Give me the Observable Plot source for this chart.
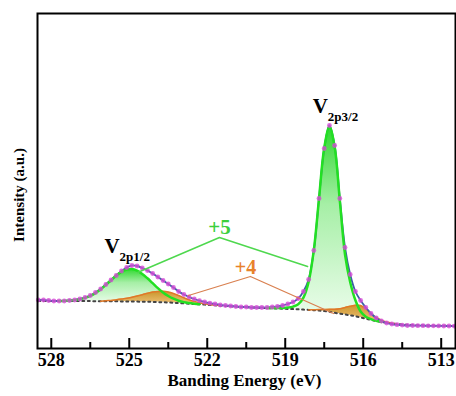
<!DOCTYPE html>
<html><head><meta charset="utf-8">
<script src="https://cdn.jsdelivr.net/npm/d3@7"></script>
<script src="https://cdn.jsdelivr.net/npm/@observablehq/plot@0.6"></script>
<style>body{margin:0;background:#fff} svg{display:block}</style>
</head><body><div id="chart"></div>
<script>
// Binding energy grid (eV)
const energy = [528.5,528.3,528.1,527.9,527.7,527.5,527.3,527.1,526.9,526.7,526.5,526.3,526.1,525.9,525.7,525.5,525.3,525.1,524.9,524.7,524.5,524.3,524.1,523.9,523.7,523.5,523.3,523.1,522.9,522.7,522.5,522.3,522.1,521.9,521.7,521.5,521.3,521.1,520.9,520.7,520.5,520.3,520.1,519.9,519.7,519.5,519.3,519.1,518.9,518.7,518.5,518.3,518.1,517.9,517.7,517.5,517.3,517.1,516.9,516.7,516.5,516.3,516.1,515.9,515.7,515.5,515.3,515.1,514.9,514.7,514.5,514.3,514.1,513.9,513.7,513.5,513.3,513.1,512.9,512.7,512.5];
// Measured intensity (a.u.)
const intensity = [48.5,48.5,48,47.5,47.5,47.5,48,48.5,49.5,51,53,56,59.5,64,68.5,73,77.5,81,83,82.5,80.5,78,75,71.5,68,64.5,61,57,54,51.5,49.5,47.8,46.5,45.3,44.5,43.5,43,42.5,42,41.5,41.5,41,41,41,41,41.5,42,43,44.5,46.5,50,57,69,98,150,200,223,203,150,101,74,57,48,41,35,30.5,27.5,25.5,24.5,23.8,23.4,23,23,22.8,22.8,22.7,22.7,22.6,22.5,22.5,22.4];
// Shirley background (a.u.)
const background = [47.5,47.5,47.5,47.5,47.5,47.5,47.5,47.5,47.4,47.4,47.4,47.3,47.3,47.3,47.2,47.2,47.1,47.0,47.0,46.9,46.8,46.7,46.6,46.4,46.2,46.0,45.7,45.4,45.1,44.8,44.5,44.2,43.9,43.5,43.2,42.8,42.5,42.2,41.9,41.6,41.3,41.1,40.8,40.6,40.4,40.2,40.0,39.8,39.6,39.4,39.2,38.9,38.6,38.3,38.0,37.5,36.7,35.7,34.8,34.0,33.2,32.2,31.0,29.8,28.6,27.5,26.5,25.7,25.0,24.5,24.0,23.7,23.5,23.3,23.1,23.0,22.9,22.8,22.7,22.6,22.5];
// V5+ fitted component above background (null = not drawn)
const v5Component = [null,null,null,null,0,0.2,0.5,1.0,1.8,3.2,5.2,8.1,11.9,16.3,21.1,25.8,29.6,32,32.5,31,27.8,23.5,18.7,14,9.8,6.5,4.1,2.4,1.3,0.7,0.3,0,null,null,null,null,null,null,null,null,null,null,null,null,0,0.3,0.5,0.8,1.4,2.5,5,12,28,60,112,163,185,166,113,60,33,16,6,2,0.8,0.3,0,null,null,null,null,null,null,null,null,null,null,null,null,null,null];
// V4+ fitted component above background (null = not drawn)
const v4Component = [null,null,null,null,null,null,null,null,null,null,null,null,0,0.5,0.9,1.5,2.3,3.2,4.3,5.6,7,8.5,9.8,10.7,11,10.5,9.3,7.6,5.7,4,2.6,1.5,0.8,0.4,0.2,0,null,null,null,null,null,null,null,null,null,null,null,null,null,null,null,null,0,0.5,1,1.5,2.5,3.5,5,7,9,11,12,10,6.5,3.5,1.8,0.8,0.3,0,null,null,null,null,null,null,null,null,null,null,null];

const xTicks = [528,525,522,519,516,513];
const xMinorTicks = [526.5,523.5,520.5,517.5,514.5];
const peakLabels = [
  {main:"V", sub:"2p1/2", E:525.95, v:96},
  {main:"V", sub:"2p3/2", E:517.94, v:236}
];
const plus5Label = [{text:"+5", E:521.53, v:115}];
const plus4Label = [{text:"+4", E:520.53, v:75}];
const plus5Guide = [{E:524.68, v:76},{E:521.53, v:111},{E:518.14, v:82}];
const plus4Guide = [{E:522.72, v:53},{E:520.34, v:72},{E:517.14, v:35}];

const rows = energy.map((E,i)=>({E, data:intensity[i], bg:background[i], v5:v5Component[i], v4:v4Component[i], peak: E > 520.6 ? "2p1/2" : "2p3/2"}));
const top5 = d => d.v5 == null ? NaN : d.bg + d.v5;
const top4 = d => d.v4 == null ? NaN : d.bg + d.v4;
const curve = "catmull-rom";

const chart = Plot.plot({
  width: 456, height: 396,
  marginTop: 13, marginBottom: 48, marginLeft: 37, marginRight: 1,
  style: {fontFamily: "'Liberation Serif','Times New Roman',serif", background: "white", color: "#000"},
  x: {domain: [528.53, 512.45]},
  y: {domain: [0, 335], axis: null},
  marks: [
    Plot.areaY(rows, {x:"E", y1:"bg", y2:top5, z:"peak", fill:"url(#g5)", curve}),
    Plot.areaY(rows, {x:"E", y1:"bg", y2:top4, z:"peak", fill:"url(#g4)", fillOpacity:0.9, curve}),
    Plot.lineY(rows, {x:"E", y:"bg", stroke:"#444", strokeWidth:2, strokeDasharray:"2,3.5"}),
    Plot.lineY(rows, {x:"E", y:top4, z:"peak", stroke:"#e07828", strokeWidth:1.5, curve}),
    Plot.lineY(rows, {x:"E", y:"data", stroke:"#3d5fa6", strokeWidth:1.8, curve}),
    Plot.lineY(rows, {x:"E", y:top5, z:"peak", stroke:"#22e022", strokeWidth:2.5, curve}),
    Plot.dot(rows, {x:"E", y:"data", r:2.4, fill:"#d64ad6", fillOpacity:0.8, stroke:"none"}),
    Plot.line(plus5Guide, {x:"E", y:"v", stroke:"#4ed84e", strokeWidth:1.5}),
    Plot.line(plus4Guide, {x:"E", y:"v", stroke:"#d98050", strokeWidth:1.3}),
    Plot.text(plus5Label, {x:"E", y:"v", text:"text", fill:"#3ccf3c", fontSize:21, fontWeight:"bold", lineAnchor:"bottom", textAnchor:"middle"}),
    Plot.text(plus4Label, {x:"E", y:"v", text:"text", fill:"#e8822a", fontSize:20, fontWeight:"bold", lineAnchor:"bottom", textAnchor:"middle"}),
    Plot.text(peakLabels, {x:"E", y:"v", text:"main", fontSize:21, fontWeight:"bold", lineAnchor:"bottom", textAnchor:"start", fill:"#000"}),
    Plot.text(peakLabels, {x:"E", y:"v", text:"sub", fontSize:13, fontWeight:"bold", lineAnchor:"bottom", textAnchor:"start", dx:15, dy:8, fill:"#000"}),
    Plot.tickX(xTicks, {x:d=>d, stroke:"#000", strokeWidth:2, insetTop:325}),
    Plot.tickX(xMinorTicks, {x:d=>d, stroke:"#000", strokeWidth:2, insetTop:329}),
    Plot.frame({stroke:"#000", strokeWidth:2}),
    Plot.axisX({ticks: xTicks, tickSize: 0, tickPadding: 5, fontSize: 18, fontWeight: "bold", label: null, tickFormat: d => String(d)}),
    Plot.text(["Banding Energy (eV)"], {text:d=>d, frameAnchor:"bottom", dx:-2, dy:37, lineAnchor:"bottom", fontSize:17, fontWeight:"bold", fill:"#000"}),
    Plot.text(["Intensity (a.u.)"], {text:d=>d, frameAnchor:"left", rotate:-90, dx:-18, dy:14, fontSize:15, fontWeight:"bold", textAnchor:"middle", lineAnchor:"middle", fill:"#000"})
  ]
});

const svg = d3.select(chart);
const defs = svg.insert("defs", ":first-child");
const g5 = defs.append("linearGradient").attr("id","g5").attr("x1",0).attr("y1",0).attr("x2",0).attr("y2",1);
g5.append("stop").attr("offset","0%").attr("stop-color","#2ed82e");
g5.append("stop").attr("offset","40%").attr("stop-color","#a6efa6");
g5.append("stop").attr("offset","100%").attr("stop-color","#eefdee");
const g4 = defs.append("linearGradient").attr("id","g4").attr("x1",0).attr("y1",0).attr("x2",0).attr("y2",1);
g4.append("stop").attr("offset","0%").attr("stop-color","#c98a1a");
g4.append("stop").attr("offset","100%").attr("stop-color","#f2c070");
document.getElementById("chart").appendChild(chart);
</script>
</body></html>
